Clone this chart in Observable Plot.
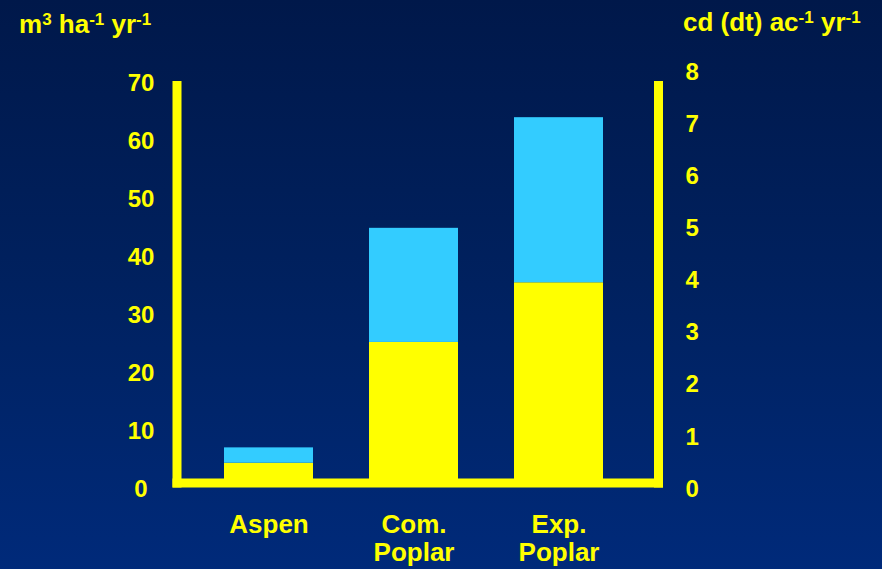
<!DOCTYPE html>
<html><head><meta charset="utf-8">
<script src="https://cdn.jsdelivr.net/npm/d3@7"></script>
<script src="https://cdn.jsdelivr.net/npm/@observablehq/plot@0.6"></script>
<style>
html,body{margin:0;padding:0;}
body{width:882px;height:569px;overflow:hidden;background:linear-gradient(to bottom,#00184a 0%,#00215f 50%,#002a7a 100%);font-family:"Liberation Sans",Arial,sans-serif;}
</style></head><body><div id="chart"></div>
<script>
// Data
const categories = ["Aspen", "Com.\nPoplar", "Exp.\nPoplar"];
const lowerValues = [4.45, 25.3, 35.6];   // yellow segment (m3 ha-1 yr-1)
const upperValues = [2.65, 19.7, 28.5];   // light-blue segment stacked on top
const leftTicks = [0, 10, 20, 30, 40, 50, 60, 70];
const rightTicks = [0, 1, 2, 3, 4, 5, 6, 7, 8];
const rightPerLeft = 9; // one right-axis unit equals this many left-axis units
const parts = ["lower", "upper"];
const partColors = ["#ffff00", "#33ccff"];

const rows = [];
categories.forEach((c, i) => {
  rows.push({category: c, part: "lower", value: lowerValues[i]});
  rows.push({category: c, part: "upper", value: upperValues[i]});
});

const YEL = "#ffff00";
const chart = Plot.plot({
  width: 882,
  height: 569,
  marginLeft: 176.5,
  marginRight: 224,
  marginTop: 85,
  marginBottom: 86.5,
  style: {background: "transparent", color: YEL, fontFamily: "'Liberation Sans', Arial, sans-serif", fontWeight: "bold"},
  x: {domain: categories, range: [196, 631], paddingInner: 0.386, paddingOuter: 0.193},
  y: {domain: [0, 70], range: [488.5, 83]},
  color: {domain: parts, range: partColors},
  marks: [
    Plot.barY(rows, {x: "category", y: "value", fill: "part", clip: true}),
    Plot.frame({anchor: "left", stroke: YEL, strokeWidth: 9, strokeLinecap: "square"}),
    Plot.frame({anchor: "right", stroke: YEL, strokeWidth: 9, strokeLinecap: "square"}),
    Plot.frame({anchor: "bottom", stroke: YEL, strokeWidth: 9, strokeLinecap: "square"}),
    Plot.axisY({anchor: "left", ticks: leftTicks, tickSize: 0, tickPadding: 36, textAnchor: "middle", fontSize: 24, label: null, fill: YEL}),
    Plot.axisY({anchor: "right", ticks: rightTicks.map(d => d * rightPerLeft), tickFormat: v => String(Math.round(v / rightPerLeft)), tickSize: 0, tickPadding: 27, fontSize: 24, label: null, fill: YEL}),
    Plot.axisX({anchor: "bottom", tickSize: 0, tickPadding: 30, fontSize: 26, lineHeight: 1.08, label: null, fill: YEL})
  ]
});
document.getElementById("chart").appendChild(chart);

// Unit titles with superscripts
const svg = d3.select(chart);
function unitTitle(x, y, pieces) {
  const t = svg.append("text").attr("x", x).attr("y", y)
    .attr("text-anchor", "start")
    .attr("fill", YEL).attr("font-size", 26).attr("font-weight", "bold")
    .attr("font-family", "'Liberation Sans', Arial, sans-serif");
  let shifted = false;
  pieces.forEach(([s, sup]) => {
    const ts = t.append("tspan").text(s);
    if (sup && !shifted) { ts.attr("dy", -8).attr("font-size", 17); shifted = true; }
    else if (sup) { ts.attr("font-size", 17); }
    else if (shifted) { ts.attr("dy", 8); shifted = false; }
  });
}
unitTitle(19, 33, [["m", false], ["3", true], [" ha", false], ["-1", true], [" yr", false], ["-1", true]]);
unitTitle(683, 31, [["cd (dt) ac", false], ["-1", true], [" yr", false], ["-1", true]]);
</script></body></html>
